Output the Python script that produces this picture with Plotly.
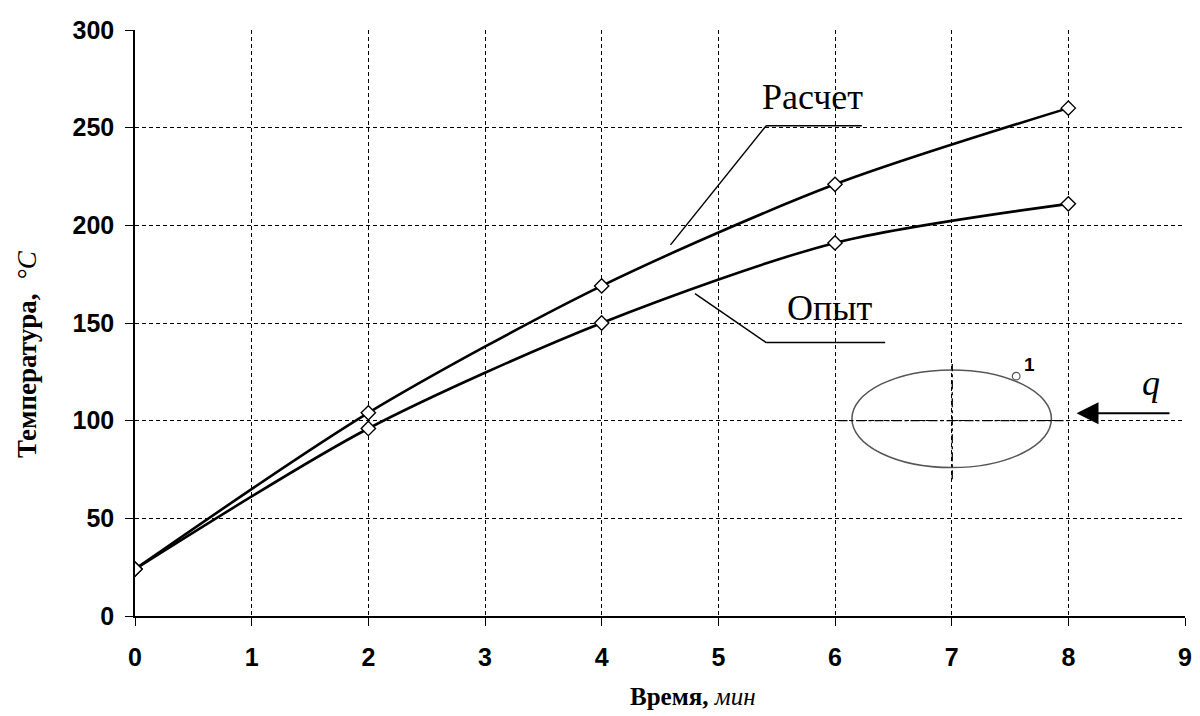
import plotly.graph_objects as go

time_min = [0, 2, 4, 6, 8]
calc_temp = [24, 104, 169, 221, 260]   # Расчет
exp_temp = [24, 96, 150, 191, 211]     # Опыт
x_ticks = [0, 1, 2, 3, 4, 5, 6, 7, 8, 9]
y_ticks = [0, 50, 100, 150, 200, 250, 300]

fig = go.Figure()
for name, vals in [("Расчет", calc_temp), ("Опыт", exp_temp)]:
    fig.add_trace(go.Scatter(
        x=time_min, y=vals, name=name, mode="lines+markers",
        line=dict(color="black", width=2.6, shape="spline", smoothing=0.8),
        marker=dict(symbol="diamond", size=11, color="white",
                    line=dict(color="black", width=1.4)),
        showlegend=False,
    ))

serif = "Liberation Serif, Times New Roman, serif"

# leader lines for labels
leaders = [
    (4.59, 190, 5.41, 251), (5.41, 251, 6.23, 251),
    (4.80, 165, 5.41, 140), (5.41, 140, 6.43, 140),
]
for x0, y0, x1, y1 in leaders:
    fig.add_shape(type="line", x0=x0, y0=y0, x1=x1, y1=y1,
                  line=dict(color="black", width=1.5), layer="above")

# ellipse (cross-section sketch)
fig.add_shape(type="circle", x0=6.145, x1=7.855, y0=76, y1=126,
              line=dict(color="#555555", width=1.5))
fig.add_shape(type="line", x0=6.03, x1=8.0, y0=100, y1=100,
              line=dict(color="black", width=1.3, dash="dashdot"))
fig.add_shape(type="line", x0=7.005, x1=7.005, y0=70, y1=129,
              line=dict(color="black", width=1.3, dash="dashdot"))
fig.add_shape(type="circle", x0=7.52, x1=7.586, y0=120.9, y1=124.7,
              line=dict(color="#555555", width=1.2), fillcolor="white")

annotations = [
    dict(x=5.81, y=265.5, text="Расчет", font=dict(family=serif, size=36, color="black")),
    dict(x=5.95, y=157.5, text="Опыт", font=dict(family=serif, size=36, color="black")),
    dict(x=8.71, y=119.5, text="<i>q</i>", font=dict(family=serif, size=36, color="black")),
    dict(x=7.67, y=129, text="<b>1</b>", font=dict(family="Arial, Liberation Sans", size=19, color="black")),
]
for a in annotations:
    fig.add_annotation(showarrow=False, xref="x", yref="y",
                       xanchor="center", yanchor="middle", **a)

# arrow q
fig.add_annotation(x=8.07, y=103.8, ax=8.88, ay=103.8, xref="x", yref="y",
                   axref="x", ayref="y", text="", showarrow=True,
                   arrowhead=2, arrowsize=2.2, arrowwidth=2, arrowcolor="black")

# axis titles
fig.add_annotation(x=4.78, y=-0.138, xref="x", yref="paper", showarrow=False,
                   xanchor="center", yanchor="middle", borderpad=0,
                   text="<b>Время,</b> <i>мин</i>",
                   font=dict(family=serif, size=25, color="black"))
fig.add_annotation(x=-0.103, y=0.447, xref="paper", yref="paper", showarrow=False,
                   xanchor="center", yanchor="middle",
                   text="<b>Температура,</b>\u00a0\u00a0<i>°C</i>", textangle=-90,
                   font=dict(family=serif, size=27, color="black"))

tickfont = dict(family="Arial, Liberation Sans", size=25, color="black", weight="bold")
common = dict(showline=True, linecolor="black", linewidth=1.5,
              ticks="outside", ticklen=8, tickwidth=1.2, tickcolor="black",
              showgrid=True, gridcolor="black", gridwidth=1, griddash="4px,3px",
              zeroline=False, tickfont=tickfont)
fig.update_xaxes(range=[0, 9], tickvals=x_ticks, ticktext=[str(v) for v in x_ticks],
                 ticklabelstandoff=10, **common)
fig.update_yaxes(range=[0, 300], tickvals=y_ticks, ticktext=[str(v) for v in y_ticks],
                 ticklabelstandoff=6, **common)

# page body has an 8px margin, so the figure is 1192x708 and margins are offset
fig.update_layout(width=1192, height=708, plot_bgcolor="white", paper_bgcolor="white",
                  margin=dict(l=127, r=8, t=22, b=100), showlegend=False)

fig.write_html("out.html")
